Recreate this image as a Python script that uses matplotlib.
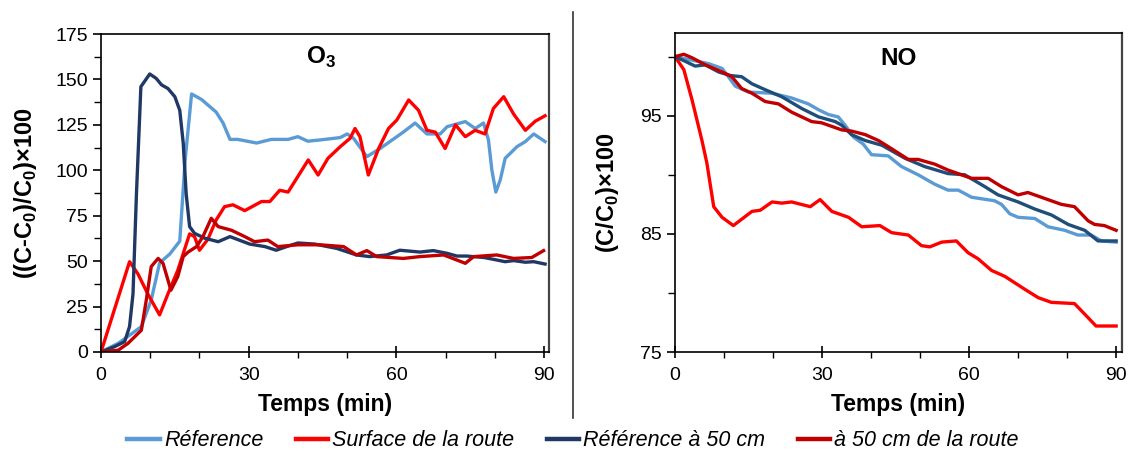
import matplotlib
matplotlib.use("Agg")
import matplotlib.pyplot as plt
from matplotlib.lines import Line2D
from matplotlib.ticker import MultipleLocator

plt.rcParams['font.family'] = ['Liberation Sans', 'DejaVu Sans']
plt.rcParams['mathtext.fontset'] = 'custom'
plt.rcParams['mathtext.rm'] = 'Liberation Sans'
plt.rcParams['mathtext.bf'] = 'Liberation Sans:bold'

# ______COLOURS______
cRef = '#5B9BD5'
cSurf = '#FF0000'
cRef50 = '#203864'
cRoute50 = '#C00000'
cRef50NO = '#1F4E79'

seriesNames = ['Réference', 'Surface de la route', 'Référence à 50 cm', 'à 50 cm de la route']

# ______O3 DATA______
o3RefT = [0, 3.5, 6.2, 8.2, 10.2, 11.9, 14, 16, 17.1, 18.4, 20.4, 23.4, 24.8, 26.2, 27.8, 31.6, 34.6, 38,
          40, 42, 44.5, 48.6, 50, 51.3, 54, 56.7, 61.4, 63.8, 66.2, 68.9, 70.3, 74, 76, 77.7, 78.7,
          79.4, 80.2, 81.1, 82.1, 84.5, 86.2, 87.9, 90.2]
o3RefV = [0, 4.8, 10, 14, 28.6, 49, 54, 61, 106, 142, 139, 132, 126, 117, 117, 115, 117, 117,
          118.5, 116, 116.7, 118, 120, 117.6, 107.5, 112, 121, 126, 120, 120, 124, 126.8, 123, 126, 116.7,
          100, 88, 94.7, 106.6, 113, 115.8, 120, 115.8]

o3SurfT = [0, 5.8, 7.5, 9.5, 11.9, 13.6, 15.6, 18, 19, 20, 21.7, 23.4, 25.1, 26.8, 29.2, 32.6, 34.3, 36.3,
           38, 42.1, 44.1, 46.1, 48.6, 50.6, 51.6, 52.6, 54.3, 56.4, 58.4, 60.1, 62.5, 64.5, 66.2, 67.9,
           69.9, 72, 74, 76, 78, 79.7, 81.8, 83.8, 86.2, 88.2, 90.2]
o3SurfV = [0, 49.7, 43, 32, 20.4, 32, 45, 65, 63.5, 56, 62, 72.7, 80, 81, 77.8, 82.8, 82.8, 89,
           88, 105.7, 97.4, 106.6, 113, 117.6, 123, 118.5, 97.4, 112, 123, 127.7, 138.7, 133, 122, 121,
           112, 125, 118.5, 122, 120, 134, 140.5, 131, 122, 127, 130]

o3Ref50T = [0, 2.8, 4.8, 5.8, 6.5, 7.2, 8.1, 9.9, 11.2, 12.3, 13.6, 15, 16, 16.7, 17.3, 18, 19, 21.1, 23.8,
            26.2, 30.2, 33.3, 35.6, 37.7, 40, 43.4, 47.9, 51.9, 54.6, 58, 60.7, 64.8, 67.5, 70.3, 72.3,
            74.3, 77.8, 79.7, 82.1, 83.8, 86.2, 87.9, 90.2]
o3Ref50V = [0, 3, 5.7, 14, 32, 87, 146, 153, 150.6, 147, 145, 140.5, 133, 115, 87, 69, 65.3, 62.6, 60.7,
            63.5, 59.4, 58, 56, 58, 60, 59.4, 57, 53.4, 52.5, 53.4, 56, 55, 55.8, 54.3, 52.8,
            52.8, 52, 51, 49.7, 50.3, 49.4, 49.7, 48.4]

o3Route50T = [0, 3.5, 5.5, 8.2, 9.2, 10.2, 11.6, 12.6, 14.2, 15.6, 16.7, 17.7, 19.4, 20.7, 22.4, 23.8, 26.5,
              29.2, 31.2, 33.9, 35.9, 40, 44.5, 49.3, 51.9, 54, 56, 61.4, 64.8, 69.6, 72.3, 74, 75.7,
              80.4, 83.8, 87.5, 89.9]
o3Route50V = [0, 1, 4.8, 12, 28.6, 47, 51.5, 48.8, 34, 41.5, 52.5, 55, 58, 63.5, 73.6, 69, 67,
              63.5, 60.7, 61.6, 58, 59, 59, 58, 53.4, 55.8, 52.5, 51.5, 52.5, 53.4, 50.6, 48.8, 52.5,
              53.4, 51.5, 52, 55.8]

# ______NO DATA______
noRefT = [0, 3.5, 6.9, 9.6, 10.9, 12.3, 15, 19.8, 23.8, 27.2, 29.3, 31.3, 33.3, 34.7, 36.4, 38.4, 40.1,
          43.5, 46.2, 49.6, 53, 55.7, 57.8, 60.5, 65.2, 66.6, 68.3, 70, 73.4, 76.1, 79.5, 82.2, 84.9, 87, 90]
noRefV = [100, 99.7, 99.4, 99.0, 98.3, 97.5, 97.0, 96.9, 96.5, 96, 95.5, 95.1, 94.9, 94.2, 93.2, 92.6, 91.7,
          91.6, 90.7, 90, 89.2, 88.7, 88.7, 88.1, 87.8, 87.5, 86.7, 86.4, 86.3, 85.6, 85.3, 84.9, 84.9, 84.4, 84.3]

noSurfT = [0, 1.8, 3.5, 5.5, 6.5, 7.9, 9.6, 11.9, 15.7, 17.4, 19.8, 21.8, 23.8, 27.6, 29.6, 32, 35.4, 38.1,
           41.8, 44.2, 47.6, 50.3, 52, 54.4, 57.4, 59.8, 61.8, 64.6, 67.3, 71.4, 74.1, 76.8, 81.5, 83.6,
           85.9, 90]
noSurfV = [100, 98.9, 96.3, 92.9, 91, 87.3, 86.4, 85.7, 86.9, 87.0, 87.7, 87.6, 87.7, 87.3, 87.9, 86.9, 86.4,
           85.6, 85.7, 85.1, 84.9, 84.0, 83.9, 84.3, 84.4, 83.4, 82.9, 81.9, 81.4, 80.3, 79.6, 79.2, 79.1,
           78.2, 77.2, 77.2]

noRef50T = [0, 2.1, 4.1, 6.2, 8.9, 11.3, 13.6, 15.7, 18.4, 21.8, 25.9, 29.3, 32.7, 34, 36, 38.8, 42.2, 46.9,
            50.9, 55.7, 59.1, 63.2, 65.9, 70, 73.4, 76.8, 80.2, 83.6, 86.3, 90]
noRef50V = [100, 99.6, 99.2, 99.3, 98.7, 98.4, 98.3, 97.7, 97.2, 96.6, 95.6, 94.9, 94.5, 94.2, 93.4, 92.9,
            92.5, 91.4, 90.7, 90.1, 90, 89.0, 88.3, 87.7, 87.1, 86.6, 85.8, 85.3, 84.4, 84.4]

noRoute50T = [0, 1.8, 3.5, 6.2, 9.6, 11.6, 13.6, 15.7, 18.4, 21.1, 23.8, 27.9, 29.9, 34, 36, 38.8, 41.5,
              44.2, 47.6, 49.6, 53, 55.7, 60.5, 63.9, 66.6, 70, 72, 75.4, 78.8, 81.5, 84.3, 85.6, 87.6, 90]
noRoute50V = [100, 100.2, 99.9, 99.3, 98.7, 98.3, 97.3, 96.9, 96.2, 96.0, 95.3, 94.5, 94.4, 93.8, 93.7,
              93.4, 92.9, 92.2, 91.3, 91.3, 90.9, 90.4, 89.7, 89.7, 89.0, 88.3, 88.5, 88.0, 87.5, 87.3,
              86.1, 85.8, 85.7, 85.3]


def styleAxis(ax, yMajor, yMinor):
    ax.xaxis.set_major_locator(MultipleLocator(30))
    ax.xaxis.set_minor_locator(MultipleLocator(10))
    ax.yaxis.set_major_locator(MultipleLocator(yMajor))
    ax.yaxis.set_minor_locator(MultipleLocator(yMinor))
    ax.tick_params(axis='x', which='major', direction='inout', length=9, width=1.2, labelsize=14, pad=6)
    ax.tick_params(axis='x', which='minor', direction='out', length=4, width=1)
    ax.tick_params(axis='y', which='major', direction='out', length=6, width=1.2, labelsize=14)
    ax.tick_params(axis='y', which='minor', direction='out', length=5, width=1)
    for s in ax.spines.values():
        s.set_linewidth(1.2)
    ax.spines['right'].set_color('#444444')
    ax.spines['right'].set_linewidth(1.6)
    ax.set_xlabel('Temps (min)', fontsize=16.5, fontweight='bold', labelpad=7)


fig = plt.figure(figsize=(11.3, 4.55), dpi=100)
axL = fig.add_axes([101 / 1130, 1 - 352 / 455, 448 / 1130, 318 / 455])
axR = fig.add_axes([675 / 1130, 1 - 352 / 455, 447 / 1130, 319 / 455])

lw = 2.4
axL.plot(o3RefT, o3RefV, color=cRef, lw=lw, solid_joinstyle='round')
axL.plot(o3SurfT, o3SurfV, color=cSurf, lw=lw, solid_joinstyle='round')
axL.plot(o3Ref50T, o3Ref50V, color=cRef50, lw=lw, solid_joinstyle='round')
axL.plot(o3Route50T, o3Route50V, color=cRoute50, lw=lw, solid_joinstyle='round')
axL.set_xlim(0, 91)
axL.set_ylim(0, 175)
styleAxis(axL, 25, 12.5)
axL.set_ylabel('((C-C$_\\mathbf{0}$)/C$_\\mathbf{0}$)×100', fontsize=17, fontweight='bold', labelpad=12)
axL.text(0.49, 0.925, 'O$_\\mathbf{3}$', transform=axL.transAxes, fontsize=17.5, fontweight='bold',
         ha='center', va='center')

axR.plot(noRefT, noRefV, color=cRef, lw=lw, solid_joinstyle='round')
axR.plot(noSurfT, noSurfV, color=cSurf, lw=lw, solid_joinstyle='round')
axR.plot(noRef50T, noRef50V, color=cRef50NO, lw=lw, solid_joinstyle='round')
axR.plot(noRoute50T, noRoute50V, color=cRoute50, lw=lw, solid_joinstyle='round')
axR.set_xlim(0, 91.2)
axR.set_ylim(75, 102)
styleAxis(axR, 10, 5)
axR.set_yticks([75, 85, 95])
axR.set_ylabel('(C/C$_\\mathbf{0}$)×100', fontsize=17, fontweight='bold', labelpad=14)
axR.text(0.5, 0.92, 'NO', transform=axR.transAxes, fontsize=17.5, fontweight='bold',
         ha='center', va='center')

# separator between panels
fig.add_artist(Line2D([573 / 1130, 573 / 1130], [1 - 418 / 455, 1 - 12 / 455], color='#333333', lw=1.2))

handles = [Line2D([], [], color=c, lw=3.2) for c in [cRef, cSurf, cRef50, cRoute50]]
fig.legend(handles, seriesNames, loc='center', bbox_to_anchor=(573 / 1130, 1 - 441 / 455), ncol=4,
           frameon=False, prop={'style': 'italic', 'size': 15.5}, handlelength=1.5, handletextpad=0.2,
           columnspacing=1.5, borderaxespad=0)

fig.savefig('out.png', dpi=100)
